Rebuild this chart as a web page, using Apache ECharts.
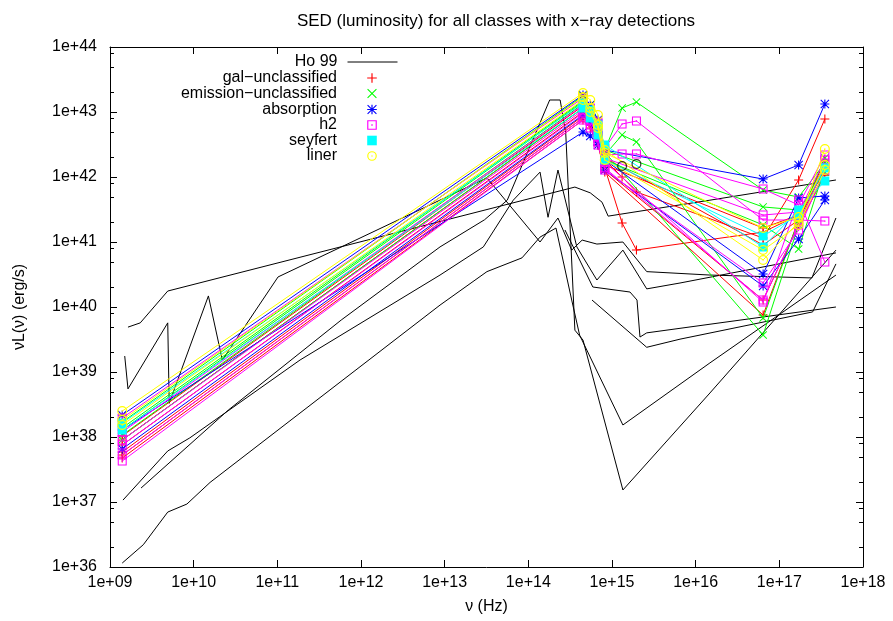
<!DOCTYPE html>
<html><head><meta charset="utf-8">
<script src="https://cdn.jsdelivr.net/npm/echarts@6/dist/echarts.min.js"></script>
<style>html,body{margin:0;padding:0;background:#fff}#c{width:893px;height:621px}</style>
</head><body><div id="c"></div>
<script>
const FONT = 'Liberation Sans, Arial, Helvetica, sans-serif';

// ---------- frequencies shared by the sample galaxies (Hz) ----------
const sedFreqs = [1.4e9, 4.5e14, 5.5e14, 6.8e14, 8.2e14, 1.32e15, 1.96e15, 6.4e16, 1.7e17, 3.5e17];

// ---------- gal-unclassified (nuL_nu, erg/s) ----------
const galUncl1 = [9.0e37, 1.15e43, 8.09e42, 4.43e42, 1.83e42, 1.0e42, 5.88e41, 1.15e41, 9.0e41, 7.8e42];
const galUncl2 = [5.88e37, 8.68e42, 7.02e42, 3.46e42, 1.38e42, 1.96e41, 7.53e40, 1.42e41, 2.60e41, 1.53e42];
const galUncl3 = [5.29e37, 8.09e42, 6.31e42, 3.11e42, 1.19e42, null, null, 7.53e39, 2.18e41, 1.83e42];
const galUncl4 = [7.53e37, 1.0e43, 7.53e42, 4.27e42, 1.53e42, null, null, 1.64e41, 2.60e41, 1.28e42];
const galUncl5 = [4.75e37, 7.53e42, 5.67e42, 3.11e42, 1.28e42, null, null, 1.28e40, 1.83e41, 1.07e42];
const galUncl6 = [1.04e38, 1.24e43, 8.68e42, 4.92e42, 1.96e42, null, null, 9.0e40, 2.18e41, 1.38e42];

// ---------- emission-unclassified ----------
const emisUncl1 = [1.70e38, 1.76e43, 1.28e43, 7.53e42, 2.60e42, 1.15e43, 1.42e43, 6.31e41, 4.92e41, 1.64e42];
const emisUncl2 = [1.07e38, 1.33e43, 9.0e42, 4.92e42, 2.18e42, 4.43e42, 3.46e42, 6.77e39, 2.18e41, 1.96e42];
const emisUncl3 = [1.38e38, 1.48e43, 1.0e43, 5.67e42, 2.42e42, null, null, 3.71e39, 1.83e41, 1.53e42];
const emisUncl4 = [9.0e37, 1.15e43, 8.09e42, 4.43e42, 1.83e42, null, null, 1.83e41, 7.8e40, 1.38e42];
const emisUncl5 = [1.28e38, 1.42e43, 9.65e42, 5.67e42, 2.60e42, null, null, 3.46e41, 3.11e41, 1.19e42];

// ---------- absorption ----------
const absorp1 = [2.18e38, 1.83e43, 1.28e43, 7.53e42, 2.60e42, null, null, 9.3e41, 1.53e42, 1.33e43];
const absorp2 = [1.28e38, 4.92e42, 4.27e42, 3.11e42, 1.83e42, null, null, 3.22e40, 4.75e41, 5.1e41];
const absorp3 = [6.54e37, 9.0e42, 7.02e42, 3.46e42, 1.28e42, null, null, 2.10e40, 1.11e41, 4.43e41];

// ---------- h2 ----------
const h2_1 = [1.96e38, 1.64e43, 1.15e43, 7.02e42, 2.79e42, 6.54e42, 7.27e42, 2.18e41, 2.18e41, 2.10e41];
const h2_2 = [1.19e38, 1.28e43, 9.0e42, 4.92e42, 2.18e42, 2.26e42, 2.26e42, 6.54e41, 3.71e41, 2.18e42];
const h2_3 = [9.0e37, 1.07e43, 7.53e42, 4.27e42, 1.70e42, null, null, 1.19e40, 4.43e41, 4.92e40];
const h2_4 = [5.29e37, 8.09e42, 6.31e42, 3.46e42, 1.38e42, null, null, 1.28e40, 1.83e41, 1.53e42];
const h2_5 = [4.27e37, 7.53e42, 5.67e42, 3.11e42, 1.28e42, null, null, 2.34e40, 1.53e41, 1.28e42];
const h2_6 = [7.53e37, 9.65e42, 7.27e42, 4.27e42, 1.96e42, null, null, 2.60e41, 2.89e41, 1.83e42];

// ---------- seyfert ----------
const seyfert1 = [1.64e38, 1.38e43, 1.07e43, 6.31e42, 3.11e42, null, null, 8.38e40, 3.11e41, 8.68e41];
const seyfert2 = [1.28e38, 1.15e43, 8.09e42, 4.43e42, 1.83e42, null, null, 1.24e41, 2.60e41, 1.38e42];

// ---------- liner ----------
const liner1 = [2.51e38, 1.96e43, 1.53e43, 9.0e42, 2.60e42, null, null, 5.29e40, 2.03e41, 2.70e42];
const liner2 = [1.83e38, 1.70e43, 1.15e43, 6.31e42, 2.34e42, null, null, 1.64e41, 2.42e41, 1.53e42];
const liner3 = [1.53e38, 1.53e43, 1.0e43, 5.67e42, 1.83e42, null, null, 7.53e40, 1.83e41, 1.28e42];

// ---------- UV-only points (black open circles) ----------
const uvOnlyFreqs = [1.32e15, 1.96e15];
const uvOnlyL = [1.48e42, 1.58e42];

// ---------- Ho 99 template SEDs ----------
const ho1Nu = [1.64e9, 2.3e9, 4.9e9, 3.6e14, 5.5e14, 7.6e14, 9.0e14, 1.48e16, 4.75e17];
const ho1L  = [4.9e39, 5.7e39, 1.76e40, 7.0e41, 5.7e41, 4.1e41, 2.5e41, 4.4e41, 9.0e41];
const ho2Nu = [1.5e9, 1.64e9, 4.9e9, 5.1e9, 1.5e10, 2.2e10, 1.02e11, 3.2e13, 1.38e14, 2.26e14, 3.3e14, 4.4e14, 6.6e14, 1.35e15, 2.6e15, 1.48e16, 2.45e17, 4.75e17];
const ho2L  = [1.76e39, 5.5e38, 5.7e39, 3.3e38, 1.48e40, 1.53e39, 2.9e40, 9.7e41, 1.0e41, 2.34e41, 7.5e40, 1.07e41, 9.3e40, 1.0e41, 3.5e40, 3.1e40, 2.8e40, 2.34e41];
const ho3Nu = [1.43e9, 4.9e9, 9.0e9, 1.87e11, 8.8e12, 2.9e13, 6.6e13, 1.38e14, 1.72e14, 2.26e14, 3.8e14, 6.6e14, 1.35e15, 2.6e15, 6.5e15, 4.75e17];
const ho3L  = [1.07e37, 6.1e37, 9.7e37, 1.53e39, 3.1e40, 8.4e40, 4.4e41, 1.19e42, 2.4e41, 1.28e42, 8.4e40, 2.6e40, 7.5e40, 1.9e40, 2.34e40, 6.8e40];
const ho4Nu = [2.35e9, 2.6e10, 5.8e11, 8.8e12, 3.0e13, 5.6e13, 1.8e14, 2.4e14, 2.8e14, 3.6e14, 4.5e14, 1.35e15, 1.48e16, 4.75e17];
const ho4L  = [1.64e37, 2.6e38, 6.3e39, 8.4e40, 2.2e41, 4.4e41, 1.53e43, 1.53e43, 4.75e42, 4.4e39, 3.1e39, 1.53e37, 4.75e38, 7.5e40];
const ho5Nu = [1.4e9, 2.5e9, 4.9e9, 8.3e9, 1.57e10, 8.8e12, 3.2e13, 8.4e13, 1.38e14, 2.14e14, 3.3e14, 4.1e14, 1.35e15, 1.48e16, 4.75e17];
const ho5L  = [1.15e36, 2.2e36, 7.0e36, 9.3e36, 2.0e37, 1.07e40, 3.5e40, 5.7e40, 1.19e41, 1.64e41, 1.28e40, 3.7e39, 1.53e38, 1.38e39, 3.1e40];
const ho6Nu = [2.74e14, 5.9e14, 1.64e15, 1.99e15, 2.16e15, 2.6e15, 4.75e17];
const ho6L  = [1.53e41, 2.03e40, 1.70e40, 1.28e40, 3.45e39, 4.0e39, 1.0e40];
const ho7Nu = [5.77e14, 2.6e15, 6.5e15, 2.5e17, 4.75e17];
const ho7L  = [1.28e40, 2.4e39, 3.2e39, 8.4e39, 4.6e40];

// ---------- axis ticks ----------
const xTickExps = [9, 18];         // axis range in decades
const yTickExps = [36, 44];
const yMinorFactors = [2, 5, 8];

// ---------- symbols (gnuplot-like) ----------
const SYM_PLUS = 'path://M4.4,0H5.6V4.4H10V5.6H5.6V10H4.4V5.6H0V4.4H4.4Z';
const SYM_CROSS = 'path://M0,0.8L0.8,0L5,4.2L9.2,0L10,0.8L5.8,5L10,9.2L9.2,10L5,5.8L0.8,10L0,9.2L4.2,5Z';
const SYM_STAR = 'path://M4.4,0H5.6V4.4H10V5.6H5.6V10H4.4V5.6H0V4.4H4.4Z M0,0.8L0.8,0L5,4.2L9.2,0L10,0.8L5.8,5L10,9.2L9.2,10L5,5.8L0.8,10L0,9.2L4.2,5Z';
const SYM_BOXDOT = 'path://M0,0H10V10H0Z M1.2,1.2V8.8H8.8V1.2Z M4.3,4.3H5.7V5.7H4.3Z';
const SYM_CIRCDOT = 'path://M5,0A5,5,0,1,1,5,10A5,5,0,1,1,5,0Z M5,1.2A3.8,3.8,0,1,0,5,8.8A3.8,3.8,0,1,0,5,1.2Z M5,4.3A0.7,0.7,0,1,1,5,5.7A0.7,0.7,0,1,1,5,4.3Z';
const SYM_CIRC = 'path://M5,0A5,5,0,1,1,5,10A5,5,0,1,1,5,0Z M5,1.2A3.8,3.8,0,1,0,5,8.8A3.8,3.8,0,1,0,5,1.2Z';

const classes = [
  {name: 'gal−unclassified', color: '#ff0000', symbol: SYM_PLUS, size: 9, gals: [galUncl1, galUncl2, galUncl3, galUncl4, galUncl5, galUncl6]},
  {name: 'emission−unclassified', color: '#00ff00', symbol: SYM_CROSS, size: 8, gals: [emisUncl1, emisUncl2, emisUncl3, emisUncl4, emisUncl5]},
  {name: 'absorption', color: '#0000ff', symbol: SYM_STAR, size: 9, gals: [absorp1, absorp2, absorp3]},
  {name: 'h2', color: '#ff00ff', symbol: SYM_BOXDOT, size: 9, gals: [h2_1, h2_2, h2_3, h2_4, h2_5, h2_6]},
  {name: 'seyfert', color: '#00ffff', symbol: 'rect', size: 9, gals: [seyfert1, seyfert2]},
  {name: 'liner', color: '#ffff00', symbol: SYM_CIRCDOT, size: 10, gals: [liner1, liner2, liner3]}
];
const hoLines = [[ho1Nu, ho1L], [ho2Nu, ho2L], [ho3Nu, ho3L], [ho4Nu, ho4L], [ho5Nu, ho5L], [ho6Nu, ho6L], [ho7Nu, ho7L]];

const series = [];
hoLines.forEach(([nu, L]) => {
  series.push({
    type: 'line', name: 'Ho 99', data: nu.map((f, i) => [f, L[i]]),
    symbol: 'none', lineStyle: {color: '#000', width: 1}, itemStyle: {color: '#000'},
    emphasis: {disabled: true}, silent: true, z: 2
  });
});
classes.forEach((c, ci) => {
  c.gals.forEach(vals => {
    const data = [];
    sedFreqs.forEach((f, i) => { if (vals[i] != null) data.push([f, vals[i]]); });
    series.push({
      type: 'line', name: c.name, data,
      symbol: c.symbol, symbolSize: c.size, showSymbol: true,
      lineStyle: {color: c.color, width: 1},
      itemStyle: {color: c.color, borderWidth: 0},
      emphasis: {disabled: true}, silent: true, z: 3 + ci
    });
  });
});
series.push({
  type: 'scatter', name: 'uv', data: uvOnlyFreqs.map((f, i) => [f, uvOnlyL[i]]),
  symbol: SYM_CIRC, symbolSize: 10, itemStyle: {color: '#000', borderWidth: 0},
  emphasis: {disabled: true}, silent: true, z: 10
});

// minor ticks on the y axis (left & right borders)
const minorVals = [];
for (let e = yTickExps[0]; e < yTickExps[1]; e++) yMinorFactors.forEach(m => minorVals.push([Math.pow(10, xTickExps[0]), m * Math.pow(10, e)]));
series.push({
  type: 'custom', name: 'minor', data: minorVals, encode: {x: 0, y: 1}, silent: true, clip: false, z: 20,
  renderItem: (params, api) => {
    const v = api.value(1);
    const p1 = api.coord([Math.pow(10, xTickExps[0]), v]);
    const p2 = api.coord([Math.pow(10, xTickExps[1]), v]);
    const y = Math.round(p1[1]) + 0.5;
    return {type: 'group', children: [
      {type: 'line', shape: {x1: p1[0], y1: y, x2: p1[0] + 4, y2: y}, style: {stroke: '#000', lineWidth: 1}},
      {type: 'line', shape: {x1: p2[0] - 4, y1: y, x2: p2[0], y2: y}, style: {stroke: '#000', lineWidth: 1}}
    ]};
  }
});

const fmt = v => '1e+' + String(Math.round(Math.log10(v))).padStart(2, '0');
const axisCommon = {
  axisLine: {show: true, onZero: false, lineStyle: {color: '#000', width: 1}},
  axisTick: {show: true, inside: true, length: 7, lineStyle: {color: '#000', width: 1}},
  splitLine: {show: false}, minorTick: {show: false}
};

const legendRows = [
  {name: 'Ho 99', cy: 63},
  {name: 'gal−unclassified', cy: 79},
  {name: 'emission−unclassified', cy: 94.5},
  {name: 'absorption', cy: 110.5},
  {name: 'h2', cy: 126},
  {name: 'seyfert', cy: 141.5},
  {name: 'liner', cy: 157}
];
const legends = legendRows.map((r, i) => ({
  data: [{name: r.name}],
  right: 495, top: r.cy - 9, orient: 'horizontal', align: 'right',
  itemWidth: 50, itemHeight: 12, itemGap: 0, padding: 0, selectedMode: false,
  textStyle: {fontSize: 16, color: '#000', fontFamily: FONT, padding: [0, 5, 0, 0]},
  lineStyle: i === 0 ? {width: 1, color: '#000'} : {opacity: 0},
  itemStyle: i === 0 ? {opacity: 0} : {}
}));

const option = {
  animation: false,
  backgroundColor: '#fff',
  textStyle: {fontFamily: FONT},
  title: {
    text: 'SED (luminosity) for all classes with x−ray detections',
    left: 491, top: 8, textAlign: 'center',
    textStyle: {fontSize: 17, fontWeight: 'normal', color: '#000', fontFamily: FONT}
  },
  legend: legends,
  grid: {left: 110, right: 30, top: 47, bottom: 54, containLabel: false},
  xAxis: [
    Object.assign({
      type: 'log', logBase: 10, min: Math.pow(10, xTickExps[0]), max: Math.pow(10, xTickExps[1]),
      splitNumber: xTickExps[1] - xTickExps[0], position: 'bottom',
      name: 'ν (Hz)', nameLocation: 'middle', nameGap: 32,
      nameTextStyle: {fontSize: 16, color: '#000', fontFamily: FONT},
      axisLabel: {formatter: fmt, fontSize: 16, color: '#000', margin: 8, fontFamily: FONT}
    }, axisCommon),
    Object.assign({
      type: 'log', logBase: 10, min: Math.pow(10, xTickExps[0]), max: Math.pow(10, xTickExps[1]),
      splitNumber: xTickExps[1] - xTickExps[0], position: 'top',
      axisLabel: {show: false}
    }, axisCommon)
  ],
  yAxis: [
    Object.assign({
      type: 'log', logBase: 10, min: Math.pow(10, yTickExps[0]), max: Math.pow(10, yTickExps[1]),
      splitNumber: yTickExps[1] - yTickExps[0], position: 'left',
      name: 'νL(ν) (erg/s)', nameLocation: 'middle', nameGap: 82, nameRotate: 90,
      nameTextStyle: {fontSize: 16, color: '#000', fontFamily: FONT},
      axisLabel: {formatter: fmt, fontSize: 16, color: '#000', margin: 13, fontFamily: FONT}
    }, axisCommon),
    Object.assign({
      type: 'log', logBase: 10, min: Math.pow(10, yTickExps[0]), max: Math.pow(10, yTickExps[1]),
      splitNumber: yTickExps[1] - yTickExps[0], position: 'right',
      axisLabel: {show: false}
    }, axisCommon)
  ],
  series
};

const chart = echarts.init(document.getElementById('c'), null, {renderer: 'canvas', width: 893, height: 621});
chart.setOption(option);
</script>
</body></html>
